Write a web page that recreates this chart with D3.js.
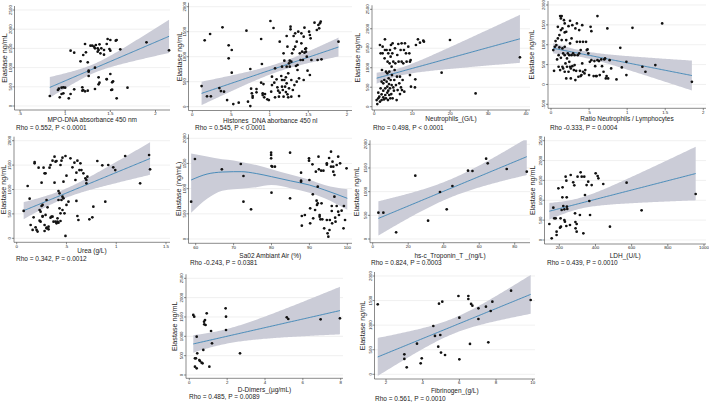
<!DOCTYPE html>
<html><head><meta charset="utf-8">
<script src="https://cdn.jsdelivr.net/npm/d3@7"></script>
<style>
html,body{margin:0;padding:0;background:#fff;}
svg{display:block;font-family:"Liberation Sans",Arial,sans-serif;}
</style></head>
<body><svg id="c" width="709" height="403"></svg>
<script>
// ---------------- DATA ----------------
const yTicks2000 = [0, 500, 1000, 1500, 2000];
const yTicks2500 = [0, 500, 1000, 1500, 2000, 2500];
const yTicksNlr = [-500, 0, 500, 1000, 1500, 2000];

const mpoXTicks = [0.5, 1, 1.5, 2];
const mpoX = [0.83,0.92,0.93,0.96,0.98,1.00,0.96,0.94,0.98,1.04,1.06,1.10,1.06,1.10,1.17,1.20,1.22,1.23,1.19,1.20,1.19,1.25,1.22,1.26,1.26,1.26,1.25,1.28,1.30,1.32,1.33,1.34,1.36,1.37,1.33,1.36,1.38,1.39,1.40,1.43,1.43,1.46,1.47,1.49,1.50,1.50,1.51,1.52,1.46,1.37,1.38,1.37,1.33,1.46,1.50,1.53,1.52,1.56,1.57,1.57,1.61,1.69,1.90,2.15];
const mpoY = [260,417,451,477,486,477,312,226,330,200,312,434,1441,1389,1163,1328,1614,1397,486,417,399,399,382,781,920,894,1137,1571,1571,1545,1502,1588,1502,1458,998,1415,1606,1371,1502,1458,1337,1614,1745,1484,1719,1441,417,425,694,746,608,564,443,703,833,642,616,1701,1719,200,1476,477,1658,1450];

const histXTicks = [0, 0.5, 1, 1.5, 2];
const histX = [0.12,0.16,0.19,0.24,0.23,0.35,0.37,0.39,0.41,0.45,0.47,0.47,0.51,0.51,0.53,0.60,0.70,0.72,0.75,0.75,0.76,0.77,0.78,0.78,0.83,0.83,0.89,0.90,0.89,0.91,0.91,0.92,0.93,0.94,0.97,0.99,1.01,1.02,1.03,1.03,1.05,1.06,1.07,1.07,1.09,1.10,1.11,1.12,1.13,1.13,1.15,1.16,1.16,1.16,1.17,1.18,1.18,1.19,1.19,1.20,1.21,1.21,1.22,1.22,1.22,1.23,1.23,1.24,1.24,1.25,1.25,1.26,1.26,1.27,1.27,1.28,1.28,1.28,1.29,1.30,1.31,1.31,1.32,1.33,1.33,1.34,1.35,1.35,1.36,1.36,1.37,1.38,1.38,1.39,1.40,1.41,1.41,1.42,1.43,1.44,1.44,1.45,1.45,1.46,1.47,1.47,1.48,1.49,1.51,1.52,1.53,1.52,1.54,1.58,1.61,1.62,1.63,1.64,1.65,1.66,1.67,1.89];
const histY = [413,1327,207,207,1454,373,313,1587,300,133,1227,967,1134,680,53,80,1521,100,754,13,360,267,213,180,353,287,1354,854,480,267,233,453,187,253,147,133,1714,300,433,600,1574,480,767,187,547,387,320,200,280,1301,614,800,400,534,334,1067,200,920,534,400,587,293,1414,467,800,247,1200,667,187,367,867,920,800,1547,1601,534,200,900,1067,334,1147,1414,433,1467,1200,814,500,1301,834,734,1501,213,567,1067,934,1467,1267,1100,934,534,1401,1080,1581,1154,1167,1100,1000,720,1501,1434,1367,634,934,1681,1534,934,1634,1567,1667,1701,947,1301];

const neutXTicks = [0, 10, 20, 30, 40];
const neutX = [0.62,0.79,1.05,1.05,1.32,1.49,1.49,1.67,1.67,1.93,1.93,1.93,2.02,2.20,2.20,2.37,2.37,2.37,2.55,2.64,2.72,2.81,2.81,2.90,2.90,3.08,3.08,3.25,3.25,3.43,3.43,3.43,3.51,3.60,3.69,3.69,3.78,3.87,3.95,3.95,4.04,4.13,4.13,4.22,4.31,4.31,4.39,4.48,4.57,4.57,4.66,4.75,4.83,4.83,5.01,5.01,5.18,5.27,5.36,5.45,5.54,5.71,5.89,5.98,6.06,6.15,6.33,6.41,6.59,6.77,6.77,6.94,7.03,7.21,7.21,7.29,7.47,7.64,7.82,7.91,8.08,8.35,8.52,8.96,9.23,9.40,9.58,9.40,9.67,10.72,10.81,10.98,11.51,12.04,12.92,13.09,17.75,19.95,26.71,38.40];
const neutY = [171,68,214,360,257,128,1584,1370,471,171,317,642,942,1370,1541,240,411,599,188,685,1241,1455,1729,300,471,214,899,642,1455,360,514,856,1156,171,411,1370,728,582,300,899,1113,471,1455,214,685,1284,1584,325,556,1027,813,1370,214,1626,496,1156,411,685,942,1498,1113,556,171,770,1327,428,1609,1156,599,325,770,1455,496,1156,1626,428,685,1113,1455,385,1626,1370,1156,1541,1370,1156,1198,813,514,496,702,1584,1729,1644,1695,1669,873,1712,342,1267];

const nlrXTicks = [0, 0.5, 1, 1.5, 2];
const nlrX = [0.03,0.04,0.05,0.06,0.07,0.08,0.09,0.09,0.10,0.10,0.11,0.11,0.12,0.12,0.13,0.13,0.13,0.14,0.14,0.15,0.15,0.15,0.16,0.16,0.17,0.18,0.18,0.18,0.18,0.18,0.19,0.20,0.20,0.20,0.21,0.21,0.22,0.23,0.23,0.24,0.24,0.25,0.25,0.25,0.26,0.26,0.27,0.27,0.28,0.28,0.29,0.30,0.31,0.31,0.32,0.32,0.33,0.34,0.34,0.35,0.36,0.37,0.37,0.38,0.38,0.39,0.39,0.40,0.41,0.41,0.42,0.42,0.44,0.45,0.46,0.47,0.48,0.49,0.50,0.51,0.52,0.53,0.53,0.56,0.57,0.58,0.59,0.60,0.61,0.61,0.63,0.64,0.66,0.67,0.69,0.70,0.71,0.72,0.73,0.74,0.75,0.77,0.79,0.86,0.91,0.93,0.99,0.99,1.07,1.20,1.24,1.37,1.46,1.85];
const nlrY = [864,344,948,1091,990,629,1158,1451,738,445,931,1242,361,1720,1368,1661,671,1720,1116,445,1410,906,780,403,1619,1309,948,319,1535,738,529,151,1116,1326,445,654,780,1468,319,738,570,1032,445,1603,403,151,1158,738,461,1493,780,361,738,487,109,1410,344,1074,1535,738,193,780,1368,344,1074,210,864,235,1493,529,1074,319,277,361,1074,864,881,780,235,570,1451,1342,612,210,587,461,210,210,1720,612,587,235,629,461,319,629,654,151,210,1410,151,612,403,126,923,428,235,570,1426,445,319,487,1535,67];

const ureaXTicks = [0, 0.5, 1, 1.5];
const ureaX = [0.07,0.11,0.13,0.14,0.16,0.17,0.18,0.18,0.19,0.20,0.21,0.22,0.23,0.23,0.24,0.24,0.25,0.25,0.26,0.26,0.26,0.27,0.28,0.28,0.28,0.29,0.29,0.30,0.30,0.30,0.31,0.32,0.32,0.33,0.34,0.34,0.35,0.36,0.36,0.37,0.38,0.38,0.39,0.39,0.40,0.40,0.41,0.41,0.42,0.42,0.42,0.43,0.43,0.44,0.44,0.44,0.45,0.45,0.46,0.46,0.46,0.47,0.47,0.48,0.49,0.49,0.50,0.50,0.52,0.54,0.56,0.58,0.59,0.60,0.60,0.61,0.61,0.62,0.63,0.64,0.65,0.67,0.69,0.70,0.70,0.71,0.73,0.76,0.77,0.81,0.86,0.89,0.92,0.97,0.99,1.09,1.24,1.33,1.34];
const ureaY = [560,1072,812,273,171,430,1563,1536,225,171,137,1447,580,362,546,341,662,1140,457,444,683,1447,150,1331,273,1331,478,218,785,205,635,184,239,1447,1502,423,444,1590,444,341,1140,1672,1570,341,1584,307,410,341,785,969,321,922,614,512,355,1502,785,1590,1652,580,853,1160,819,512,1686,48,683,1283,751,1638,1454,1550,1195,765,1345,457,1590,375,1399,1536,1399,1331,1229,1195,1126,1263,389,430,648,1584,1495,751,1502,1454,1399,1686,1126,1707,1413];

const sao2XTicks = [60, 70, 80, 90, 100];
const sao2X = [58.8,59.8,66.9,71.9,72.6,72.6,74.6,79.9,79.9,79.9,80.0,80.0,80.2,80.9,84.9,84.9,87.8,87.8,87.8,88.0,88.0,88.8,89.9,89.9,90.0,90.2,90.2,90.8,90.9,91.0,91.5,91.7,91.9,92.0,92.2,92.2,92.4,92.5,92.7,92.7,92.9,93.1,93.2,93.4,93.7,93.9,94.6,94.6,94.6,94.8,95.0,95.2,95.3,95.4,95.7,95.7,95.9,95.9,96.0,96.1,96.3,96.3,96.6,96.6,96.8,96.9,97.2,97.2,97.6,97.6,97.8,98.1,98.5,99.0,99.1,99.4,99.8];
const sao2Y = [741,1589,1384,1490,1251,741,589,1715,1668,1602,1450,920,1437,1437,1715,808,1317,1159,1139,457,265,477,1602,1556,1172,609,311,1483,887,410,576,1337,761,675,1039,708,1635,1384,477,444,391,1357,708,391,1357,212,1503,377,1476,113,46,1609,179,377,1437,1734,655,556,311,1536,1437,1337,1271,841,424,344,655,1470,1635,543,477,1503,563,212,655,377,1403];
// smoothed fit and its 95% band
const sao2FitX = [58.8, 63, 67, 70, 72, 76, 80, 85, 90, 94, 100];
const sao2Fit  = [1172, 1290, 1330, 1337, 1337, 1300, 1238, 1155, 1072, 975, 808];
const sao2Hi   = [1700, 1640, 1585, 1560, 1530, 1470, 1385, 1280, 1175, 1072, 986];
const sao2Lo   = [523, 800, 960, 990, 1000, 1030, 1072, 1010, 920, 808, 580];

const tropXTicks = [0, 20, 40, 60, 80];
const tropX = [3.2,6.0,13.2,24.0,31.2,37.9,41.7,44.9,53.7,56.2,63.9,64.8,75.5,86.8];
const tropY = [556,556,141,1338,387,993,627,1119,1443,1436,1697,1598,1478,1422];

const ldhXTicks = [200, 400, 600, 800, 1000];
const ldhX = [145,158,167,172,180,185,185,195,204,207,209,213,217,218,222,228,228,231,235,239,239,241,242,244,259,263,277,283,287,289,290,296,296,301,314,318,324,333,338,342,351,360,366,370,379,401,412,416,443,480,572,655,954];
const ldhY = [403,42,814,545,545,126,210,1300,310,545,336,755,1074,1326,856,503,772,461,1594,1493,352,1074,839,780,378,1636,1451,1376,671,453,294,210,403,1594,629,1703,1594,168,1594,1133,1384,1468,982,629,1384,1678,1611,1552,1410,336,1443,747,1158];

const ddimXTicks = [0, 2, 4, 6, 8];
const ddimX = [0.21,0.26,0.30,0.30,0.35,0.39,0.39,0.42,0.53,0.56,0.65,0.70,0.74,0.78,0.79,0.83,0.86,0.92,1.06,1.15,1.20,1.92,1.94,1.94,2.68,5.15,5.23,6.94,7.96];
const ddimY = [1552,1509,431,216,431,991,172,560,388,362,319,302,647,1379,1310,1422,1293,1595,216,1138,819,1724,1509,1164,560,1491,1448,1440,1466];

const fibXTicks = [2, 4, 6, 8, 10];
const fibX = [1.55,3.0,3.0,3.13,3.69,3.95,3.89,4.58,4.67,4.85,4.89,4.96,5.0,5.07,5.22,5.95,6.0,6.0,6.49,6.49,6.58,6.64,6.71,7.04,7.04,7.45,7.58,7.71,7.8,8.82,9.89];
const fibY = [1424,407,312,142,624,325,224,983,780,563,1437,800,441,1478,393,1593,1153,305,1593,1532,617,1431,1397,1342,1125,1376,651,1288,1478,1702,1512];

const xTitles = ["MPO-DNA absorbance 450 nm","Histones_DNA aborbance 450 nl","Neutrophils_(G/L)","Ratio Neutrophils / Lymphocytes","Urea (g/L)","Sa02 Ambiant Air (%)","hs-c_Troponin_T _(ng/L)","LDH_(U/L)","D-Dimers_(\u00b5g/mL)","Fibrinogen_(g/L)"];
const yTitles = ["Elastase ng/mL","Elastase ng/mL","Elastase ng/mL","Elastase ng/mL","Elastase ng/mL","Elastase (ng/mL)","Elastase ng/mL","Elastase ng/mL","Elastase ng/mL","Elastase ng/mL"];
const rhoTexts = ["Rho = 0.552, P < 0.0001","Rho = 0.545, P < 0.0001","Rho = 0.498, P < 0.0001","Rho -0.333, P = 0.0004","Rho = 0.342, P = 0.0012","Rho -0.243, P = 0.0381","Rho = 0.824, P = 0.0003","Rho = 0.439, P = 0.0010","Rho = 0.485, P = 0.0089","Rho = 0.561, P = 0.0010"];

// ---------------- LAYOUT (pixels) ----------------
const layout = [
 {L:14.5, R:170, A:110,   xr:[0.5,20,2,155.5],  yr:[0,106,2500,10],    ytx:4.5, xty:121.5, rx:16,  ry:129.5},
 {L:188.5,R:352, A:110.5, xr:[0,192.3,2,347],   yr:[0,106.7,2000,6.7], ytx:179.5,xty:122.6, rx:195, ry:129.8},
 {L:372,  R:530, A:110,   xr:[0,374.3,40,526],  yr:[0,106.7,2500,9.3], ytx:357.5,xty:121, rx:373, ry:129.5},
 {L:548,  R:706, A:108.3, xr:[0,551,2,703.3],   yr:[-500,104.3,2000,5],ytx:532, xty:120.5, rx:550, ry:129.5},
 {L:14,   R:170, A:242.3, xr:[0,16.7,1.5,166],  yr:[0,238.3,2000,140.7],ytx:4,  xty:253, rx:16,  ry:260.5},
 {L:188.5,R:352, A:243.3, xr:[60,195.7,100,347.3],yr:[0,239,2000,138.3],ytx:178.5,xty:257.5, rx:190, ry:264.5},
 {L:370,  R:530, A:242.7, xr:[0,372.7,80,514.7],yr:[0,239,2000,144.3], ytx:356.5,xty:257.5, rx:371, ry:264.5},
 {L:544.5,R:706, A:244,   xr:[200,559.3,1000,704],yr:[0,240,2500,140.7],ytx:533,xty:257.5, rx:547, ry:264.5},
 {L:186,  R:343, A:378.3, xr:[0,189.3,8,340.7], yr:[0,375,2500,278.3], ytx:175, xty:391.5, rx:189, ry:399},
 {L:374.5,R:535, A:379,   xr:[2,386,10,532.7],  yr:[0,374.3,2000,276], ytx:363, xty:393, rx:375, ry:401}
];

const series = [
 {x:mpoX, y:mpoY, xt:mpoXTicks, yt:yTicks2500},
 {x:histX,y:histY,xt:histXTicks,yt:yTicks2000},
 {x:neutX,y:neutY,xt:neutXTicks,yt:yTicks2500},
 {x:nlrX, y:nlrY, xt:nlrXTicks, yt:yTicksNlr},
 {x:ureaX,y:ureaY,xt:ureaXTicks,yt:yTicks2000},
 {x:sao2X,y:sao2Y,xt:sao2XTicks,yt:yTicks2000, custom:true},
 {x:tropX,y:tropY,xt:tropXTicks,yt:yTicks2000},
 {x:ldhX, y:ldhY, xt:ldhXTicks, yt:yTicks2500},
 {x:ddimX,y:ddimY,xt:ddimXTicks,yt:yTicks2500},
 {x:fibX, y:fibY, xt:fibXTicks, yt:yTicks2000}
];

const AX = "#3c3c3c", GRID = "#e6e6e6", LINE = "#3b84b6", BAND = "#cbccd7", TXT = "#222";
const fmt = v => String(v).replace(/^0\./, ".").replace(/^-0\./, "-.");

function tq(df){ const z=1.959964; return z + (z**3+z)/(4*df) + (5*z**5+16*z**3+3*z)/(96*df*df); }

function linFit(xs, ys){
  const n = xs.length, mx = d3.mean(xs), my = d3.mean(ys);
  let sxx=0, sxy=0; for(let i=0;i<n;i++){ sxx+=(xs[i]-mx)**2; sxy+=(xs[i]-mx)*(ys[i]-my); }
  const b = sxy/sxx, a = my - b*mx;
  let sse=0; for(let i=0;i<n;i++){ sse += (ys[i]-a-b*xs[i])**2; }
  const s = Math.sqrt(sse/(n-2)), t = tq(n-2);
  const [x0,x1] = d3.extent(xs);
  return d3.range(0,101).map(k=>{ const x = x0+(x1-x0)*k/100, yh=a+b*x;
    const se = s*Math.sqrt(1/n + (x-mx)**2/sxx); return {x, y:yh, lo:yh-t*se, hi:yh+t*se}; });
}

const svg = d3.select("#c");

series.forEach((S, i) => {
  const Ly = layout[i];
  const xs = d3.scaleLinear().domain([Ly.xr[0], Ly.xr[2]]).range([Ly.xr[1], Ly.xr[3]]);
  const ys = d3.scaleLinear().domain([Ly.yr[0], Ly.yr[2]]).range([Ly.yr[1], Ly.yr[3]]);
  const top = Ly.yr[3] - 4;
  const g = svg.append("g");
  const cid = "clip" + i;
  g.append("clipPath").attr("id", cid).append("rect")
    .attr("x", Ly.L).attr("y", top).attr("width", Ly.R - Ly.L).attr("height", Ly.A - top);

  // grid
  g.selectAll(".grid").data(S.yt).enter().append("line")
    .attr("x1", Ly.L).attr("x2", Ly.R).attr("y1", d=>ys(d)).attr("y2", d=>ys(d))
    .attr("stroke", GRID).attr("stroke-width", 0.6);

  // fit + band
  let fit;
  if (S.custom) fit = sao2FitX.map((x,k)=>({x, y:sao2Fit[k], lo:sao2Lo[k], hi:sao2Hi[k]}));
  else fit = linFit(S.x, S.y);
  const curve = S.custom ? d3.curveMonotoneX : d3.curveLinear;
  const fg = g.append("g").attr("clip-path", `url(#${cid})`);
  fg.append("path").datum(fit)
    .attr("d", d3.area().x(d=>xs(d.x)).y0(d=>ys(d.lo)).y1(d=>ys(d.hi)).curve(curve))
    .attr("fill", BAND);
  fg.append("path").datum(fit)
    .attr("d", d3.line().x(d=>xs(d.x)).y(d=>ys(d.y)).curve(curve))
    .attr("fill", "none").attr("stroke", LINE).attr("stroke-width", 0.9);

  // points
  g.selectAll(".pt").data(S.x.map((x,k)=>[x,S.y[k]])).enter().append("circle")
    .attr("cx", d=>xs(d[0])).attr("cy", d=>ys(d[1])).attr("r", 1.35).attr("fill", "#111");

  // axes
  g.append("line").attr("x1", Ly.L).attr("x2", Ly.L).attr("y1", top).attr("y2", Ly.A)
    .attr("stroke", AX).attr("stroke-width", 0.6);
  g.append("line").attr("x1", Ly.L).attr("x2", Ly.R).attr("y1", Ly.A).attr("y2", Ly.A)
    .attr("stroke", AX).attr("stroke-width", 0.6);
  S.yt.forEach(v => {
    g.append("line").attr("x1", Ly.L-2).attr("x2", Ly.L).attr("y1", ys(v)).attr("y2", ys(v))
      .attr("stroke", AX).attr("stroke-width", 0.6);
    g.append("text").attr("transform", `translate(${Ly.L-2.6},${ys(v)}) rotate(-90)`)
      .attr("text-anchor","middle").attr("font-size", 4.4).attr("fill", TXT).text(fmt(v));
  });
  S.xt.forEach(v => {
    g.append("line").attr("x1", xs(v)).attr("x2", xs(v)).attr("y1", Ly.A).attr("y2", Ly.A+2)
      .attr("stroke", AX).attr("stroke-width", 0.6);
    g.append("text").attr("x", xs(v)).attr("y", Ly.A+5.4)
      .attr("text-anchor","middle").attr("font-size", 4.4).attr("fill", TXT).text(fmt(v));
  });
  // titles
  g.append("text").attr("x", (Ly.L+Ly.R)/2).attr("y", Ly.xty).attr("text-anchor","middle")
    .attr("font-size", 6.5).attr("fill", TXT).text(xTitles[i]);
  g.append("text").attr("transform", `translate(${Ly.ytx+2.2},${(top+Ly.A)/2}) rotate(-90)`)
    .attr("text-anchor","middle").attr("font-size", 7.2).attr("fill", TXT).text(yTitles[i]);
  g.append("text").attr("x", Ly.rx).attr("y", Ly.ry).attr("font-size", 6.5).attr("fill", TXT).text(rhoTexts[i]);
});
</script>
</body></html>
